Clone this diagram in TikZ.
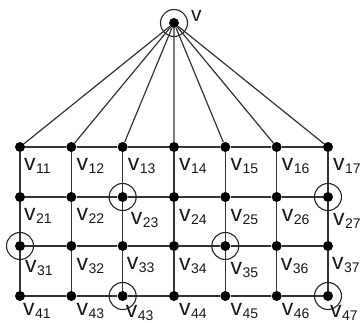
\documentclass[tikz,border=0pt]{standalone}
\usepackage{fontspec}
\setmainfont{Liberation Sans}
\newcommand{\vlab}[1]{{\fontsize{23}{23}\selectfont v}\kern0.5pt{\fontsize{14}{14}\selectfont\raisebox{-3pt}{#1}}}
\begin{document}
\begin{tikzpicture}[x=1pt,y=-1pt,
  dot/.style={circle,fill=black,inner sep=0pt,minimum size=10pt},
  ring/.style={circle,draw=black!85,line width=1.1pt,minimum size=27pt,inner sep=0pt},
  edge/.style={line width=1.2pt,draw=black!80},
  lab/.style={anchor=base west,inner sep=0pt,text=black!90}]
\useasboundingbox (0,0) rectangle (360,323);
% top vertex
\node[dot] (v) at (174,23) {};
\node[ring] (vr) at (v) {};
\node[lab] (lv) at (191,22) {\fontsize{21}{21}\selectfont v};
% grid vertices
\foreach \r/\y in {1/147,2/197,3/246,4/296}{
  \foreach \c in {1,...,7}{
    \node[dot] (n\r\c) at ({20+51.33*(\c-1)},\y) {};
  }
}
% edges from v
\foreach \c in {1,...,7}{
  \draw[edge] (v) -- (n1\c);
}
% horizontal edges
\foreach \r in {1,...,4}{
  \foreach \c [evaluate=\c as \d using int(\c+1)] in {1,...,6}{
    \draw[edge] (n\r\c) -- (n\r\d);
  }
}
% vertical edges
\foreach \r [evaluate=\r as \s using int(\r+1)] in {1,...,3}{
  \foreach \c in {1,...,7}{
    \draw[edge] (n\r\c) -- (n\s\c);
  }
}
% rings
\foreach \n in {n23,n27,n31,n35,n43,n47}{
  \node[ring] (r\n) at (\n) {};
}
% labels
\foreach \r/\c/\t/\dx/\dy in {
  1/1/11/4/24, 1/2/12/5/24, 1/3/13/5/24, 1/4/14/5/24, 1/5/15/5/24, 1/6/16/5/24, 1/7/17/5/24,
  2/1/21/4/24, 2/2/22/5/24, 2/3/23/8/28, 2/4/24/5/25, 2/5/25/5/25, 2/6/26/5/25, 2/7/27/5/29,
  3/1/31/5/27, 3/2/32/5/25, 3/3/33/4/24, 3/4/34/5/25, 3/5/35/5/29, 3/6/36/4/25, 3/7/37/4/24,
  4/1/41/3/20, 4/2/43/5/20, 4/3/43/3/22, 4/4/44/5/20, 4/5/45/5/20, 4/6/46/5/20, 4/7/47/2/22}{
  \node[lab] (l\r\c) at ([xshift=\dx pt,yshift=-\dy pt]n\r\c) {\vlab{\t}};
}
\end{tikzpicture}
\end{document}
